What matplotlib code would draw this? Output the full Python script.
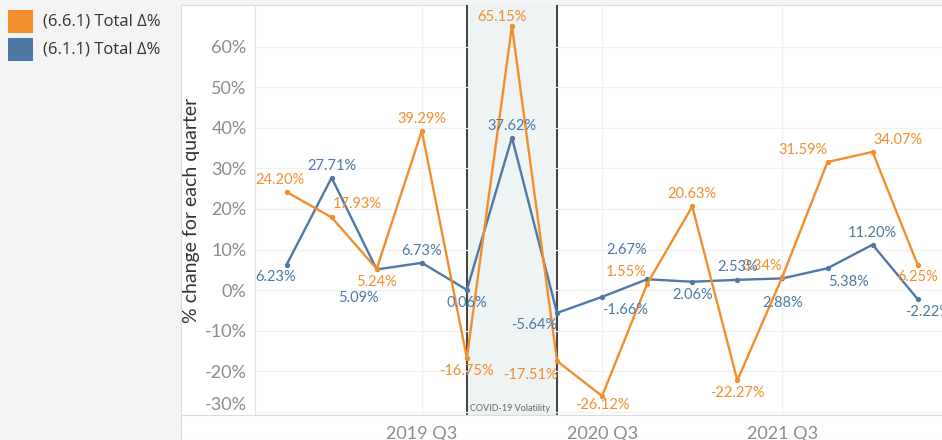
"""Quarterly % change with COVID-19 volatility band"""

import matplotlib.pyplot as plt
import matplotlib.transforms as mtrans
from matplotlib.patches import Rectangle
from matplotlib.lines import Line2D

quarters = ["2018 Q4", "2019 Q1", "2019 Q2", "2019 Q3", "2019 Q4", "2020 Q1", "2020 Q2",
            "2020 Q3", "2020 Q4", "2021 Q1", "2021 Q2", "2021 Q3", "2021 Q4", "2022 Q1", "2022 Q2"]
shown_quarters = ["2019 Q3", "2020 Q3", "2021 Q3"]
covid_span = ["2019 Q4", "2020 Q2"]

total_661 = [24.20, 17.93, 5.24, 39.29, -16.75, 65.15, -17.51, -26.12,
             1.55, 20.63, -22.27, 3.34, 31.59, 34.07, 6.25]
total_611 = [6.23, 27.71, 5.09, 6.73, 0.06, 37.62, -5.64, -1.66,
             2.67, 2.06, 2.53, 2.88, 5.38, 11.20, -2.22]
y_ticks = [-30, -20, -10, 0, 10, 20, 30, 40, 50, 60]

# label nudges in pixels (right, down)
off_661 = [(-7, -12), (26, -13), (0, 13), (0, -12), (0, 13), (-10, -9), (-27, 14), (0, 9),
           (-21, -12), (0, -12), (0, 13), (-21, -11), (-25, -12), (25, -12), (0, 12)]
off_611 = [(-11, 12), (0, -12), (-18, 29), (0, -12), (0, 13), (0, -12), (-23, 12), (23, 13),
           (-21, -29), (0, 13), (0, -13), (0, 25), (21, 14), (0, -12), (10, 13)]

ORANGE = "#f28e2b"
BLUE = "#4e79a7"
FONT = ["Lato", "DejaVu Sans"]

plt.rcParams["font.family"] = FONT

W, H = 942, 440
fig = plt.figure(figsize=(W / 100, H / 100), dpi=100, facecolor="#f4f4f4")

# white panel behind the chart
fig.add_artist(Rectangle((181 / W, 0), 1, 435 / H, transform=fig.transFigure,
                         facecolor="white", edgecolor="#dcdcdc", lw=0.8, zorder=0))

ax = fig.add_axes([255 / W, 25 / H, 1 - 255 / W, 410 / H])
ax.set_facecolor("none")

xs = list(range(len(quarters)))
c0, c1 = quarters.index(covid_span[0]), quarters.index(covid_span[1])
ax.axvspan(c0, c1, color="#eef3f3", zorder=0)
ax.axvline(c0, color="#222222", lw=1.2, zorder=1)
ax.axvline(c1, color="#222222", lw=1.2, zorder=1)
ax.annotate("COVID-19 Volatility", xy=(c0, 0), xycoords=ax.get_xaxis_transform(),
            xytext=(3, 7), textcoords="offset pixels", fontsize=6.5, color="#666666",
            ha="left", va="center")

ax.plot(xs, total_611, color=BLUE, lw=1.7, marker="o", ms=2.8, zorder=3)
ax.plot(xs, total_661, color=ORANGE, lw=1.7, marker="o", ms=2.8, zorder=3)

for vals, offs, col in [(total_661, off_661, ORANGE), (total_611, off_611, BLUE)]:
    for x, v, (dx, dy) in zip(xs, vals, offs):
        ax.annotate(f"{v:.2f}%", xy=(x, v), xytext=(dx, -dy), textcoords="offset pixels",
                    ha="center", va="center", fontsize=10.5, color=col, zorder=4)

ax.set_xlim(-0.70, 14.54)
ax.set_ylim(-30.8, 70.3)
ax.set_yticks(y_ticks)
ax.set_yticklabels([f"{t}%" for t in y_ticks])
ax.set_xticks([quarters.index(q) for q in shown_quarters])
ax.set_xticklabels(shown_quarters)
ax.tick_params(length=0, colors="#8c8c8c", labelsize=13)
ax.tick_params(axis="y", pad=6)
ax.tick_params(axis="x", pad=8)
ax.grid(True, color="#f0f0f0", lw=0.9, zorder=0)

# bottom tick label sits a little higher, as in the source
lab = ax.get_yticklabels()[0]
lab.set_transform(lab.get_transform() + mtrans.ScaledTranslation(0, 8 / 100, fig.dpi_scale_trans))

for s in ["top", "right"]:
    ax.spines[s].set_visible(False)
ax.spines["left"].set_color("#e2e2e2")
ax.spines["bottom"].set_color("#dcdcdc")

ax.set_ylabel("% change for each quarter", fontsize=14, color="#333333", labelpad=3)

# legend
for i, (col, name) in enumerate([(ORANGE, "(6.6.1) Total Δ%"), (BLUE, "(6.1.1) Total Δ%")]):
    top = 10 + i * 28
    fig.add_artist(Rectangle((8 / W, 1 - (top + 23) / H), 25 / W, 23 / H,
                             transform=fig.transFigure, facecolor=col, edgecolor="none"))
    fig.text(43 / W, 1 - (top + 12) / H, name, fontsize=12, color="#333333",
             ha="left", va="center", family=["Open Sans", "DejaVu Sans"])

# separator below x-axis area, extending into the white panel
fig.add_artist(Line2D([181 / W, 1], [25 / H, 25 / H], transform=fig.transFigure,
                      color="#dcdcdc", lw=0.8))

fig.savefig("out.png", dpi=100, facecolor=fig.get_facecolor())
